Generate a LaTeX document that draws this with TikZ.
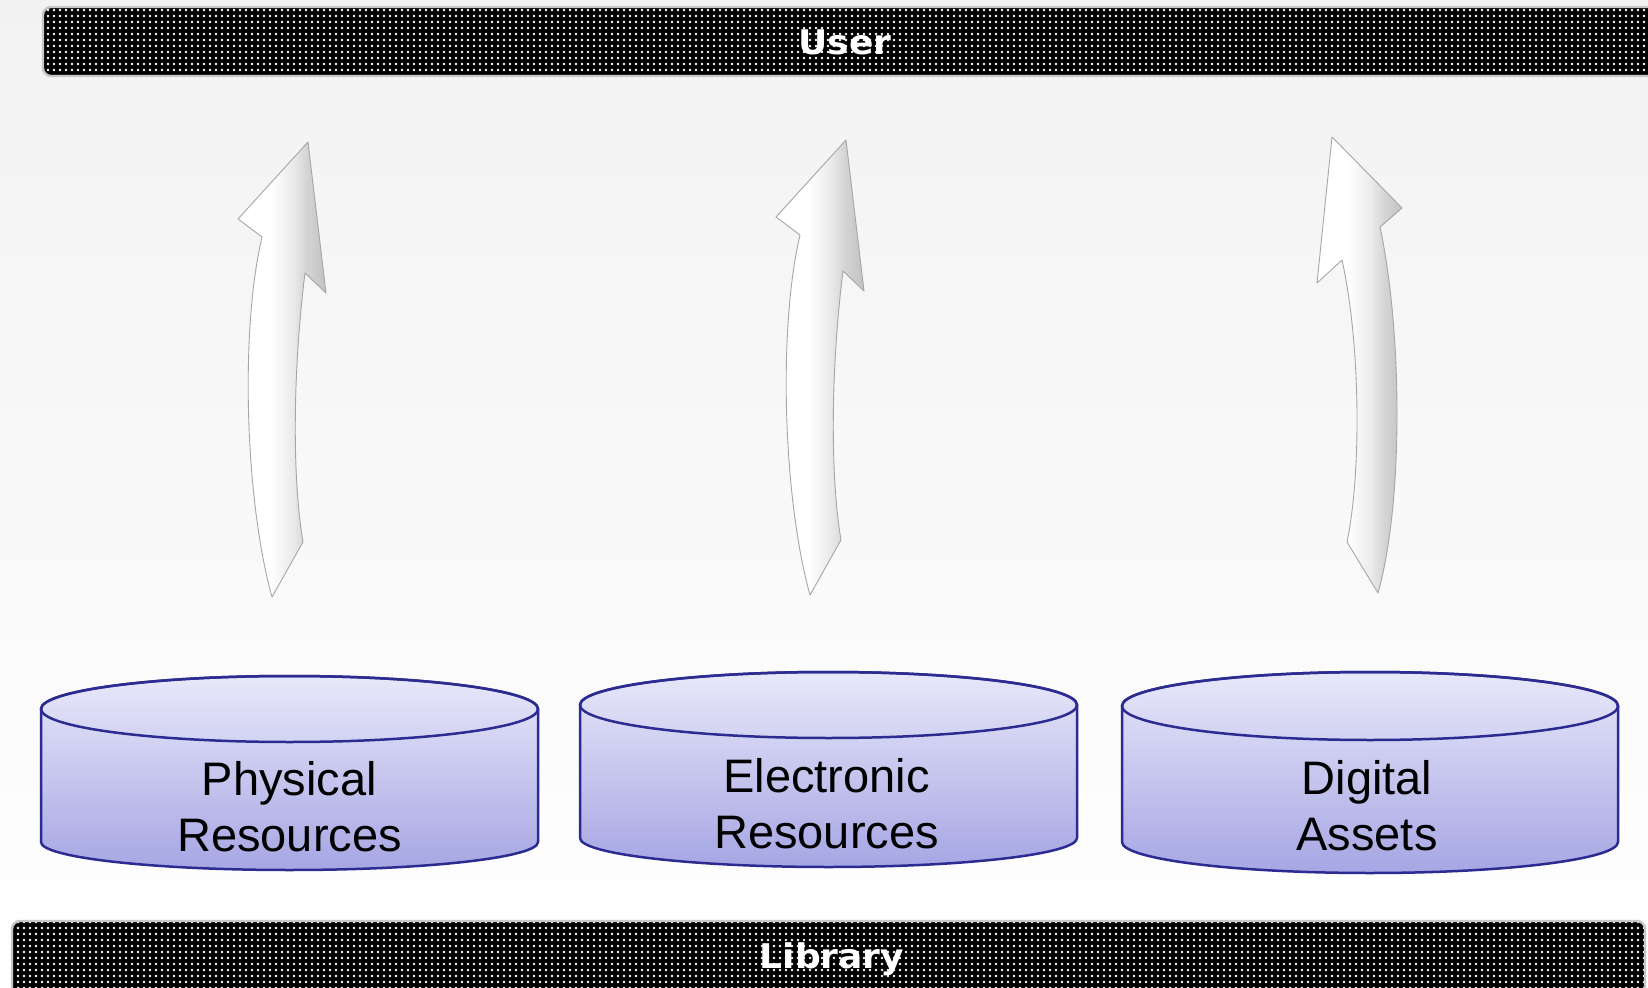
\documentclass[tikz,border=0pt]{standalone}
\usepackage{fontspec}
\usetikzlibrary{patterns.meta}
\newfontfamily\cylfont{Liberation Sans}
\newfontfamily\barfont[FakeStretch=1.06]{DejaVu Sans}
\definecolor{cyltop}{RGB}{232,232,250}
\definecolor{cylbot}{RGB}{166,166,228}
\definecolor{cylline}{RGB}{43,43,145}
\pgfdeclarehorizontalshading{arrowsh}{100bp}{color(0bp)=(white); color(43bp)=(white); color(56bp)=(black!8); color(64bp)=(black!17); color(75bp)=(black!24); color(100bp)=(black!24)}
\newcommand\drawcyl[6]{%
  \path[cylbody] (#1-#4,#2) -- (#1-#4,#3) arc[start angle=180,end angle=0,x radius=#4,y radius=#6]
    -- (#1+#4,#2) arc[start angle=0,end angle=-180,x radius=#4,y radius=#5] -- cycle;
  \draw[cylrim] (#1,#2) ellipse[x radius=#4,y radius=#5];
}
\begin{document}
\begin{tikzpicture}[x=0.5pt,y=-0.5pt,
  bar/.style={preaction={fill=black}, pattern={Dots[distance=3pt,radius=0.7pt]}, pattern color=white,
    draw=black!22, line width=1.2pt, rounded corners=4pt},
  bartext/.style={text=white, font=\barfont\bfseries\fontsize{17}{20}\selectfont, anchor=base, inner sep=0},
  arrowbody/.style={shading=arrowsh, draw=black!35, line width=0.45pt, line join=round},
  cylbody/.style={top color=cyltop, bottom color=cylbot, draw=cylline, line width=1.25pt},
  cylrim/.style={draw=cylline, line width=1.25pt},
  cyltext/.style={font=\cylfont\fontsize{23.5}{28}\selectfont, align=center, inner sep=0, text=black}]
\useasboundingbox (0,0) rectangle (1648,988);
\clip (0,0) rectangle (1648,988);
\fill[top color=black!5, bottom color=white] (0,0) rectangle (1648,988);

% bars
\path[bar] (43,7) rectangle (1672,76);
\path[bar] (12,921) rectangle (1645,1012);
\node[bartext] (user) at (845,55) {User};
\node[bartext] (library) at (832,968) {Library};

% arrows
\path[arrowbody] (272,597) .. controls (245,500) and (240,330) .. (262,237) -- (238,219) -- (308,142)
  -- (326,293) -- (305,273) .. controls (294,360) and (291,470) .. (303,542) -- cycle;
\begin{scope}[shift={(538,-2)}]
\path[arrowbody] (272,597) .. controls (245,500) and (240,330) .. (262,237) -- (238,219) -- (308,142)
  -- (326,293) -- (305,273) .. controls (294,360) and (291,470) .. (303,542) -- cycle;
\end{scope}
\path[arrowbody] (1332,137) -- (1402,208) -- (1380,227) .. controls (1402,330) and (1404,500) .. (1378,593)
  -- (1347,542) .. controls (1362,470) and (1360,340) .. (1342,260) -- (1317,283) -- cycle;

% cylinders
\drawcyl{289.5}{709}{842}{248.5}{33}{28}
\drawcyl{828.5}{705}{838}{248.5}{33}{29}
\drawcyl{1370}{706}{842}{248}{34}{31}
\node[cyltext] (physical) at (289.5,806.5) {Physical\\Resources};
\node[cyltext] (electronic) at (826.5,803.7) {Electronic\\Resources};
\node[cyltext] (digital) at (1367,805.5) {Digital\\Assets};
\end{tikzpicture}
\end{document}
